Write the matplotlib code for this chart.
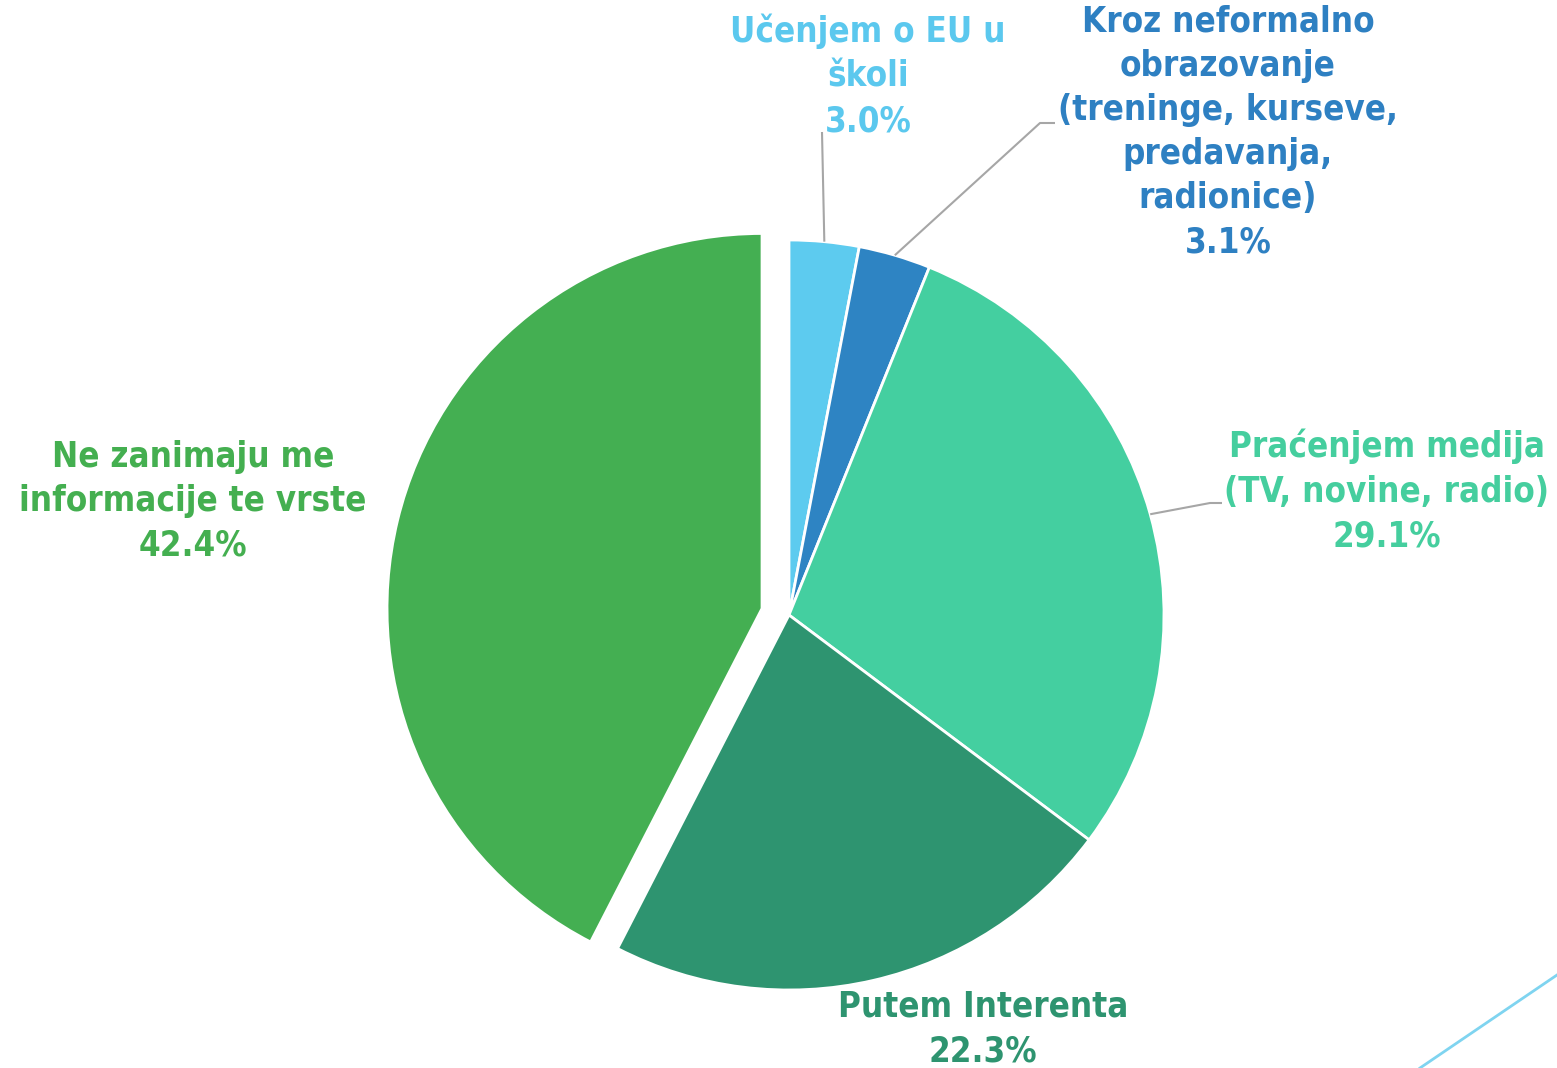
import numpy as np
import matplotlib
matplotlib.use("Agg")
import matplotlib.pyplot as plt
from matplotlib.lines import Line2D

categories = [
    "Učenjem o EU u\nškoli",
    "Kroz neformalno\nobrazovanje\n(treninge, kurseve,\npredavanja,\nradionice)",
    "Praćenjem medija\n(TV, novine, radio)",
    "Putem Interenta",
    "Ne zanimaju me\ninformacije te vrste",
]
values = [3.0, 3.1, 29.1, 22.3, 42.4]
colors = ["#5DCBEF", "#2E84C3", "#44CFA0", "#2E9470", "#44AF52"]
label_colors = ["#5BC8EE", "#2E80C2", "#45CE9E", "#2E9470", "#44AF50"]

W, H = 1557, 1068
fig = plt.figure(figsize=(W / 100, H / 100), dpi=100)
ax = fig.add_axes([0, 0, 1, 1])

cx, cy, R = 789, H - 615, 375
explode_frac = [0, 0, 0, 0, 0.074]
wedges, _ = ax.pie(values, colors=colors, startangle=90, counterclock=False,
                   center=(cx, cy), radius=R,
                   explode=[e * R for e in explode_frac],
                   wedgeprops=dict(edgecolor="white", linewidth=2))
ax.set_xlim(0, W)
ax.set_ylim(0, H)
ax.set_aspect("equal")
ax.axis("off")

# label block centres (x, y in pixel coords from top)
label_pos = [(868, 76), (1228, 132), (1387, 491), (983, 1029), (193, 501)]
# leader lines: (elbow x, elbow y, end x) or None
leaders = [(822, 132, 822), (1040, 123, 1055), (1210, 503, 1222), None, None]

fs = 25
for i, (w, cat, v) in enumerate(zip(wedges, categories, values)):
    text = cat + "\n" + f"{v:.1f}%"
    lx, ly = label_pos[i]
    ax.text(lx, H - ly, text, ha="center", va="center", multialignment="center",
            fontsize=fs, fontweight="bold", color=label_colors[i],
            linespacing=1.38, family="DejaVu Sans", fontstretch="condensed")
    if leaders[i] is not None:
        ang = np.deg2rad((w.theta1 + w.theta2) / 2)
        px, py = cx + R * np.cos(ang), cy + R * np.sin(ang)
        ex, ey, tx = leaders[i]
        ax.plot([px, ex, tx], [py, H - ey, H - ey], color="#A6A6A6", lw=1.5,
                solid_capstyle="butt")

# decorative corner line
fig.add_artist(Line2D([1.0, 1420 / W], [1 - 975 / H, 0.0],
                      transform=fig.transFigure, color="#7FD4F0", lw=2))

fig.savefig("out.png", dpi=100, facecolor="white")
